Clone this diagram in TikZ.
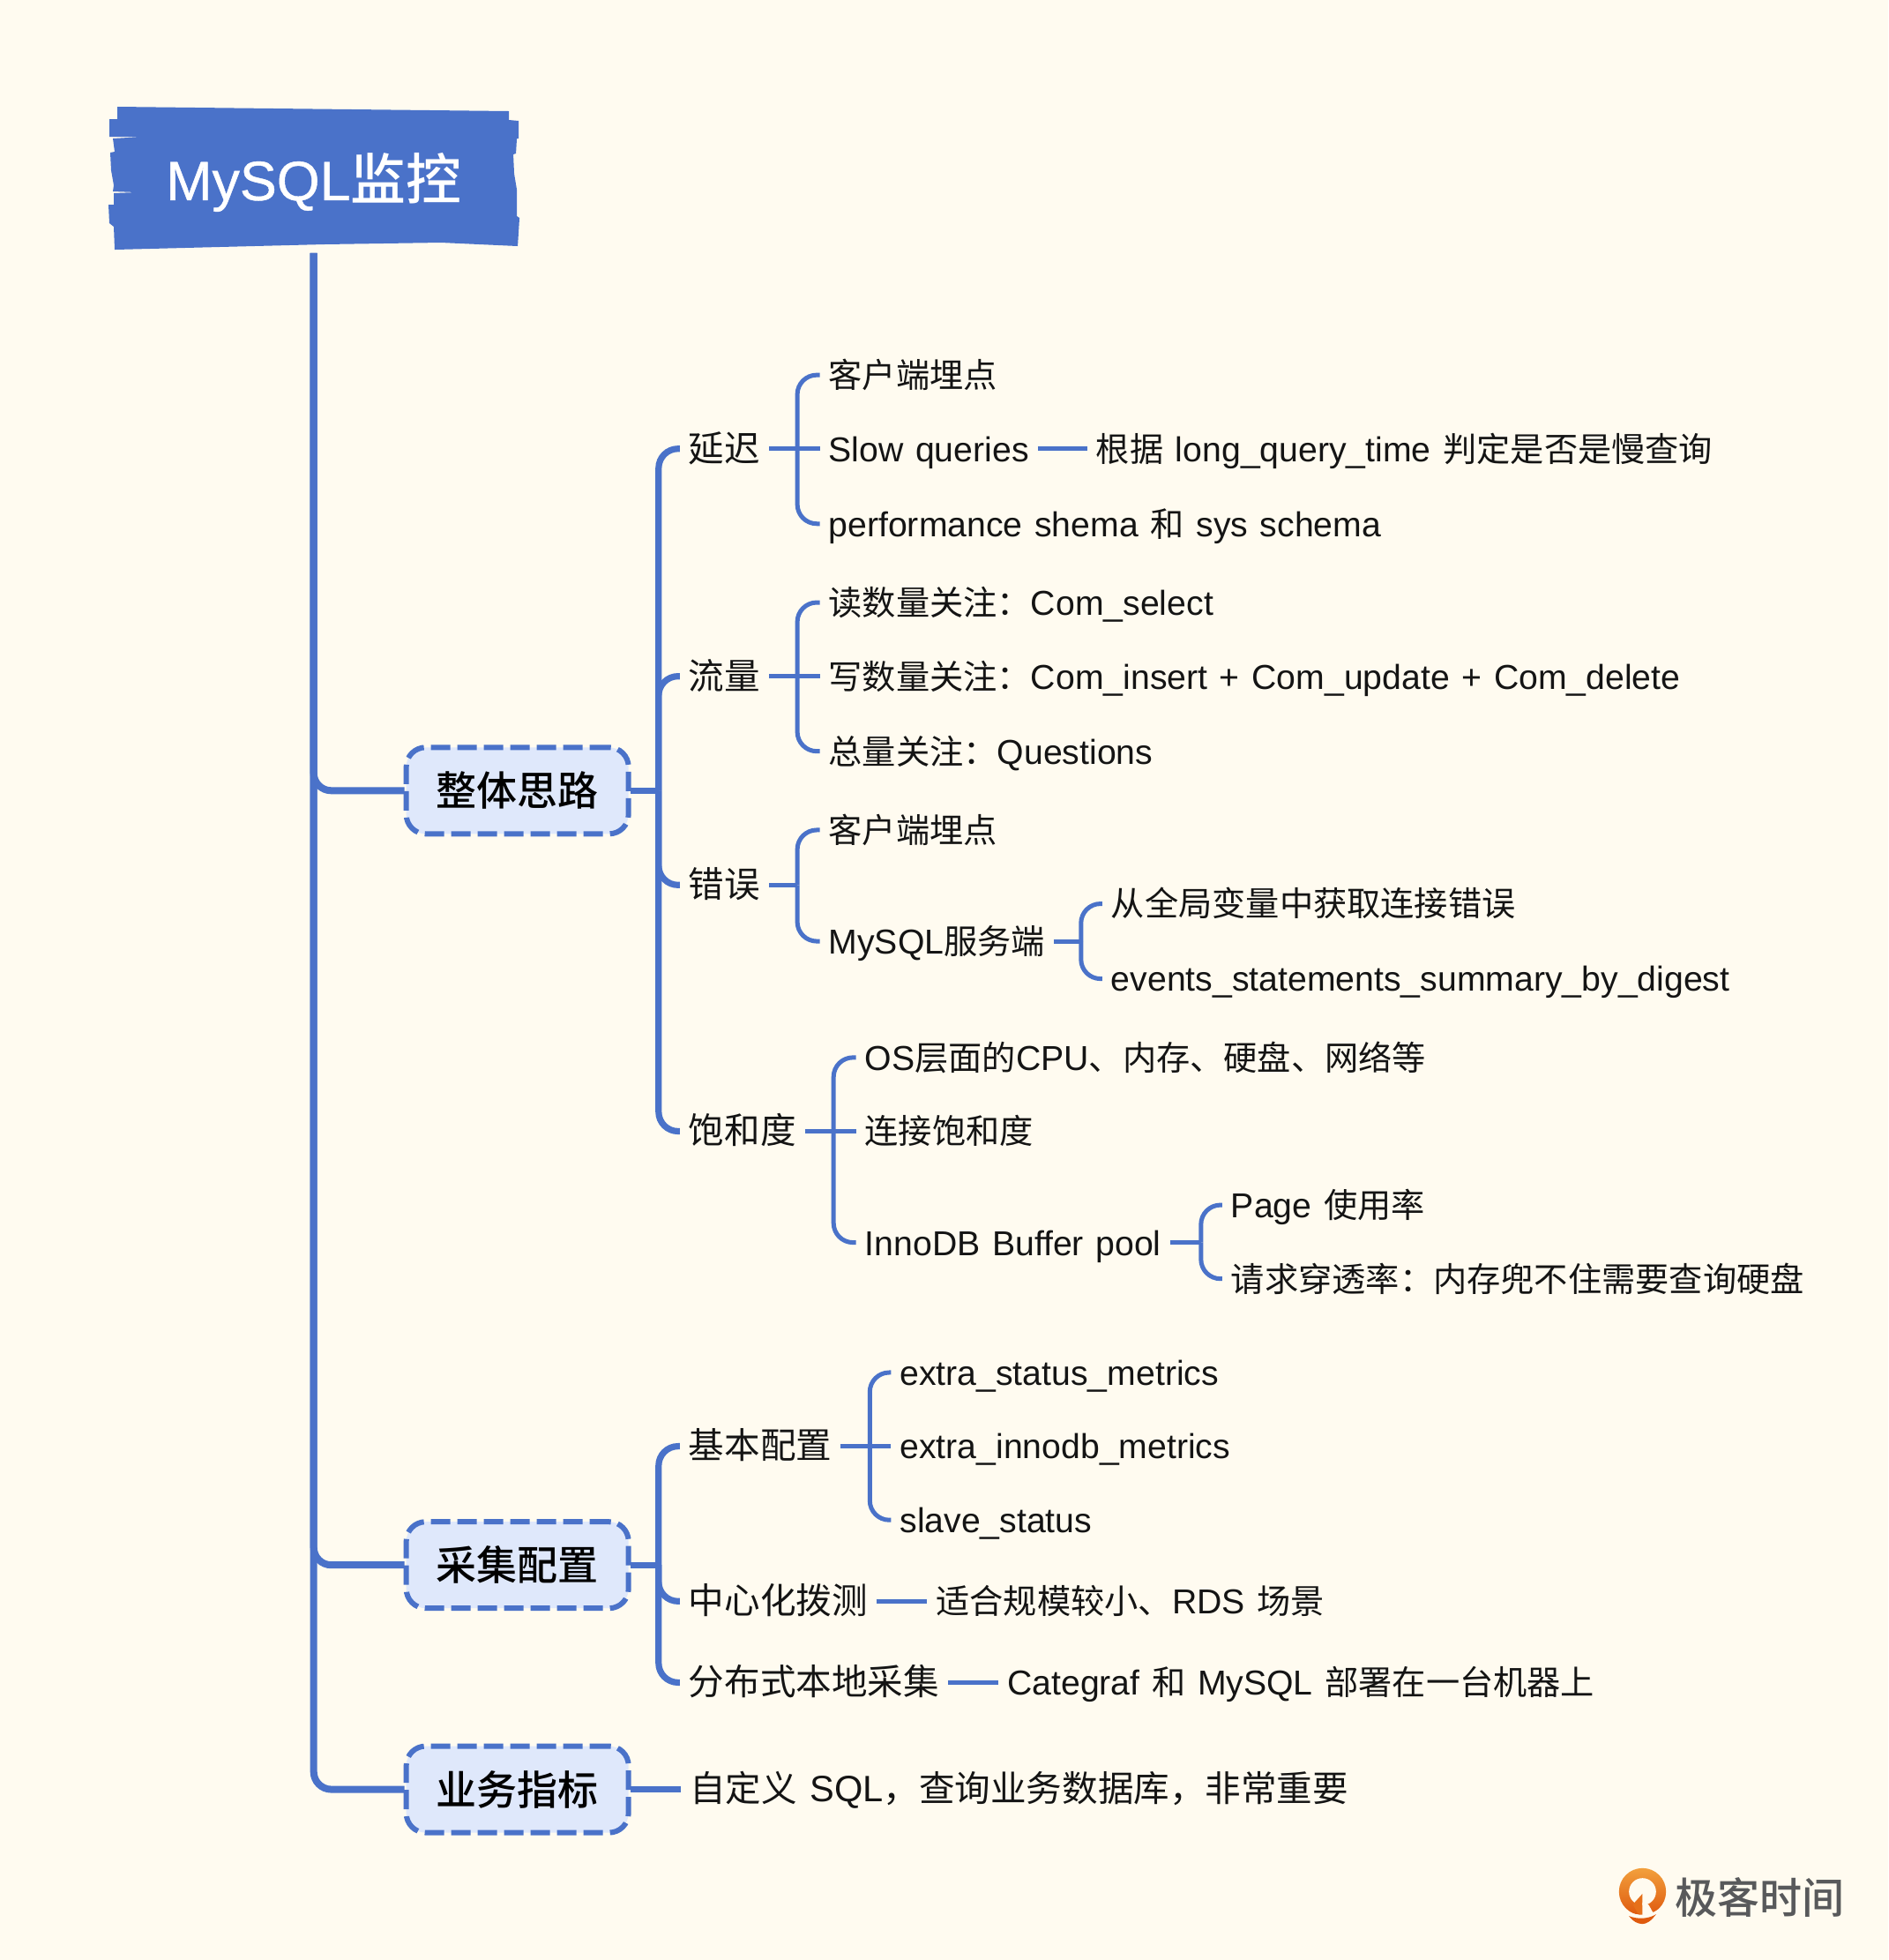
\documentclass[tikz,border=0pt]{standalone}
\usepackage{fontspec}
\usetikzlibrary{calc}
\setmainfont[WordSpace=1.25]{Liberation Sans}
\newfontfamily\cjk[Scale=0.975]{Noto Sans CJK SC}
\newfontfamily\cjkm{Noto Sans CJK SC Medium}
\newfontfamily\rootlat[FakeBold=0.7]{Liberation Sans}
\newcommand\C[1]{{\cjk #1}}
\definecolor{bg}{HTML}{FFFBF0}
\definecolor{blu}{HTML}{4A72C9}
\definecolor{pale}{HTML}{DFE8FB}
\definecolor{ink}{HTML}{141414}
\definecolor{logot}{HTML}{58595B}
\definecolor{pinA}{HTML}{F2A03D}
\definecolor{pinB}{HTML}{DF5A0E}
\definecolor{pinC}{HTML}{E6701A}
\tikzset{
  treeA/.style={draw=blu,line width=3.6pt,rounded corners=11pt},
  treeB/.style={draw=blu,line width=2.5pt,rounded corners=11pt},
  flat/.style={rounded corners=0pt},
  trunk/.style={draw=blu,line width=4pt,rounded corners=10pt},
  mainbox/.style={draw=blu,fill=pale,line width=3pt,dash pattern=on 11pt off 4pt,rounded corners=11pt,
     minimum width=126pt,minimum height=49pt,inner sep=0pt,outer sep=1pt,font=\fontsize{23}{26}\selectfont\cjkm,text=black},
  lab/.style={anchor=west,inner sep=0pt,outer xsep=5pt,outer ysep=0pt,text=ink,text height=15.4pt,text depth=1pt,font=\fontsize{19.6}{23}\selectfont},
  head/.style={lab,font=\fontsize{20.8}{24}\selectfont},
}
\begin{document}
\begin{tikzpicture}[x=0.7085pt,y=-0.7085pt]
\useasboundingbox[fill=bg] (0,0) rectangle (1511,1568);
% root
\begin{scope}[x=0.5pt,y=-0.5pt]
\fill[blu] (133,121)--(577,126)--(577,136)--(588,137)--(588,157)--(586,157)--(585,174)--(582,175)--(583,197)--(586,215)--(586,245)--(589,247)--(587,279)--(500,275)--(367,277)--(130,283)--(129,257)--(124,253)--(123,232)--(129,232)--(129,219)--(155,218)--(128,217)--(129,210)--(126,193)--(125,173)--(130,172)--(128,157)--(163,155)--(124,155)--(124,135)--(133,135)--cycle;
\end{scope}
\node[inner sep=0pt,minimum width=225pt,minimum height=76pt,outer ysep=2pt,text=white,font=\fontsize{31.4}{34}\selectfont] (root) at (251,146) {{\rootlat MySQL}{\cjkm 监控}};
% main boxes
\node[mainbox] (zt) at (414,632.5) {整体思路};
\node[mainbox] (cj) at (414,1252) {采集配置};
\node[mainbox] (yw) at (414,1431.5) {业务指标};
\draw[trunk] (root.south) |- (zt.west);
\draw[trunk] (root.south) |- (cj.west);
\draw[trunk] (root.south) |- (yw.west);
% level one
\node[head] (yc) at (544,359) {\C{延迟}};
\node[head] (ll) at (544,541) {\C{流量}};
\node[head] (cw) at (544,708) {\C{错误}};
\node[head] (bh) at (544,905) {\C{饱和度}};
\node[head] (jb) at (544,1157) {\C{基本配置}};
\node[head] (zx) at (544,1281) {\C{中心化拨测}};
\node[head] (fb) at (544,1346) {\C{分布式本地采集}};
\node[head] (zd) at (545,1431.5) {\C{自定义} SQL\C{，查询业务数据库，非常重要}};
\coordinate (sZ) at (527,632.5);
\coordinate (sC) at (527,1252);
\draw[treeA,flat] (zt.east) -- (sZ);
\draw[treeA,flat] (cj.east) -- (sC);
\draw[treeA,flat] (yw.east) -- (zd.west);
\foreach \c in {yc,ll,cw,bh} \draw[treeA] (sZ) |- (\c.west);
\foreach \c in {jb,zx,fb} \draw[treeA] (sC) |- (\c.west);
% delay
\node[lab] (a1) at (656,300) {\C{客户端埋点}};
\node[lab] (a2) at (656,359) {Slow queries};
\node[lab] (a3) at (656,419) {performance shema \C{和} sys schema};
\node[lab] (a4) at (870,359) {\C{根据} long\_query\_time \C{判定是否是慢查询}};
\coordinate (sa) at (638,359);
\draw[treeB,flat] (yc.east) -- (a2.west);
\foreach \c in {a1,a3} \draw[treeB] (sa) |- (\c.west);
\draw[treeB] (a2.east) -- (a4.west);
% traffic
\node[lab] (b1) at (656,482) {\C{读数量关注：}Com\_select};
\node[lab] (b2) at (656,541) {\C{写数量关注：}Com\_insert + Com\_update + Com\_delete};
\node[lab] (b3) at (656,601) {\C{总量关注：}Questions};
\coordinate (sb) at (638,541);
\draw[treeB,flat] (ll.east) -- (b2.west);
\foreach \c in {b1,b3} \draw[treeB] (sb) |- (\c.west);
% errors
\node[lab] (c1) at (656,664) {\C{客户端埋点}};
\node[lab] (c2) at (656,753) {MySQL\C{服务端}};
\node[lab] (c3) at (882,723) {\C{从全局变量中获取连接错误}};
\node[lab] (c4) at (882,783) {events\_statements\_summary\_by\_digest};
\coordinate (sc) at (638,708);
\coordinate (sd) at (865,753);
\draw[treeB,flat] (cw.east) -- (sc);
\foreach \c in {c1,c2} \draw[treeB] (sc) |- (\c.west);
\draw[treeB,flat] (c2.east) -- (sd);
\foreach \c in {c3,c4} \draw[treeB] (sd) |- (\c.west);
% saturation
\node[lab] (d1) at (685,846) {OS\C{层面的}CPU\C{、内存、硬盘、网络等}};
\node[lab] (d2) at (685,905) {\C{连接饱和度}};
\node[lab] (d3) at (685,994) {InnoDB Buffer pool};
\node[lab] (d4) at (978,964) {Page \C{使用率}};
\node[lab] (d5) at (978,1023) {\C{请求穿透率：内存兜不住需要查询硬盘}};
\coordinate (se) at (667,905);
\coordinate (sf) at (961,994);
\draw[treeB,flat] (bh.east) -- (d2.west);
\foreach \c in {d1,d3} \draw[treeB] (se) |- (\c.west);
\draw[treeB,flat] (d3.east) -- (sf);
\foreach \c in {d4,d5} \draw[treeB] (sf) |- (\c.west);
% collection
\node[lab] (e1) at (713,1098) {extra\_status\_metrics};
\node[lab] (e2) at (713,1157) {extra\_innodb\_metrics};
\node[lab] (e3) at (713,1216) {slave\_status};
\coordinate (sg) at (696,1157);
\draw[treeB,flat] (jb.east) -- (e2.west);
\foreach \c in {e1,e3} \draw[treeB] (sg) |- (\c.west);
\node[lab] (f1) at (742,1281) {\C{适合规模较小、}RDS \C{场景}};
\node[lab] (f2) at (799,1346) {Categraf \C{和} MySQL \C{部署在一台机器上}};
\draw[treeB] (zx.east) -- (f1.west);
\draw[treeB] (fb.east) -- (f2.west);
% logo
\begin{scope}[x=0.5pt,y=-0.5pt,shift={(1825,2110)}]
\begin{scope}[x=0.1667pt,y=-0.1667pt]
\shade[top color=pinA,bottom color=pinB] (112,103) circle (80);
\fill[bg] (112,103) circle (46);
\fill[pinC] (112,110) -- (85,140) -- (80,148) -- (95,175) -- (112,184) -- cycle;
\fill[bg] (112,140) -- (133,148) -- (150,178) -- (118,190) -- (112,190) -- cycle;
\draw[bg,line width=2pt] (56,176) .. controls (95,192) and (130,192) .. (168,170);
\fill[pinB] (66,186) .. controls (95,197) and (130,197) .. (158,180) .. controls (140,205) and (125,212) .. (112,213) .. controls (95,212) and (80,205) .. (66,186) -- cycle;
\end{scope}
\end{scope}
\node[anchor=west,inner sep=0pt,text=logot,font=\fontsize{24}{26}\selectfont\cjkm] (logo) at (1340,1518) {极客时间};
\end{tikzpicture}
\end{document}
